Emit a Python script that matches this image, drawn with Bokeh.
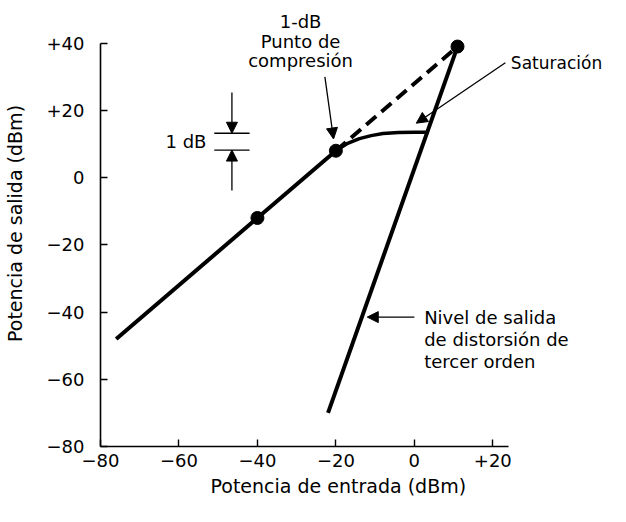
from bokeh.plotting import figure
from bokeh.models import (ColumnDataSource, FixedTicker, Range1d, Arrow, NormalHead, Title)
from bokeh.embed import file_html
from bokeh.resources import INLINE
from bokeh.core.properties import value

# ---- data (dBm) ----
linear_in = [-76, -20]
linear_out = [-48, 8]
compression_in = [-20, -17, -14, -11, -8, -4, 0, 3]
compression_out = [8, 10.2, 11.6, 12.5, 13.1, 13.4, 13.5, 13.5]
ideal_in = [-20, 11]
ideal_out = [8, 39]
third_order_in = [-22, 11]
third_order_out = [-70, 39]
marker_in = [-40, -20, 11]
marker_out = [-12, 8, 39]

x_ticks = [-80, -60, -40, -20, 0, 20]
x_tick_labels = ["\u221280", "\u221260", "\u221240", "\u221220", "0", "+20"]
y_ticks = [-80, -60, -40, -20, 0, 20, 40]
y_tick_labels = ["\u221280", "\u221260", "\u221240", "\u221220", "0", "+20", "+40"]

# ---- annotation layout ----
ann_text = ["1-dB", "Punto de", "compresi\u00f3n", "Saturaci\u00f3n",
            "Nivel de salida", "de distorsi\u00f3n de", "tercer orden", "1 dB"]
ann_x = [-29, -29, -29, 24.6, 2.5, 2.5, 2.5, -53]
ann_y = [46.5, 40.6, 34.7, 34, -41.5, -48.2, -54.7, 10.6]
ann_align = ["center", "center", "center", "left", "left", "left", "left", "right"]
ann_size = ["18px", "18px", "18px", "17px", "18px", "18px", "18px", "18px"]

arrow_x0 = [-22.8, 23.2, 0.0, -46.5, -46.5]
arrow_y0 = [30.0, 34.2, -41.5, 25.3, -3.8]
arrow_x1 = [-20.6, 0.5, -12.0, -46.5, -46.5]
arrow_y1 = [11.5, 16.2, -41.5, 13.2, 8.2]

db_bar_x0 = [-51, -51]
db_bar_x1 = [-42, -42]
db_bar_y = [13.2, 8.2]

FONT = "DejaVu Sans"

p = figure(width=610, height=506, output_backend="svg", toolbar_location=None,
           x_range=Range1d(-80, 50), y_range=Range1d(-80, 52.7),
           min_border_left=98, min_border_right=0, min_border_top=0,
           min_border_bottom=60)
p.outline_line_color = None
p.grid.visible = False
p.background_fill_color = "white"
p.border_fill_color = "white"

for ax in (p.xaxis[0], p.yaxis[0]):
    ax.axis_line_width = 1.6
    ax.axis_line_color = "black"
    ax.major_tick_in = 7
    ax.major_tick_out = 0
    ax.major_tick_line_width = 1.4
    ax.minor_tick_line_color = None
    ax.major_label_text_font = FONT
    ax.major_label_text_font_size = "18px"
    ax.major_label_text_color = "black"
    ax.axis_label_text_font = FONT
    ax.axis_label_text_font_size = "19px"
    ax.axis_label_text_font_style = "normal"
    ax.axis_label_text_color = "black"

p.xaxis.ticker = FixedTicker(ticks=x_ticks)
p.xaxis.major_label_overrides = dict(zip(x_ticks, x_tick_labels))
p.xaxis.bounds = (-80, 24)
p.xaxis.major_label_standoff = 7

p.yaxis.ticker = FixedTicker(ticks=y_ticks)
p.yaxis.major_label_overrides = dict(zip(y_ticks, y_tick_labels))
p.yaxis.bounds = (-80, 40)
p.yaxis.axis_label = "Potencia de salida (dBm)"
p.yaxis.major_label_standoff = 16
p.yaxis.axis_label_standoff = 18

# x axis title, placed under the axis
p.add_layout(Title(text="Potencia de entrada (dBm)", align="left", offset=110,
                   text_font=FONT, text_font_size="19px", text_font_style="normal",
                   text_color="black", standoff=6), "below")

# curves
p.line(linear_in, linear_out, line_width=4, color="black")
p.line(compression_in, compression_out, line_width=3.5, color="black")
p.line(ideal_in, ideal_out, line_width=4, color="black", line_dash="13 7")
p.line(third_order_in, third_order_out, line_width=4, color="black")
p.scatter(marker_in, marker_out, size=13, color="black")

# 1 dB bars
p.segment(x0=db_bar_x0, y0=db_bar_y, x1=db_bar_x1, y1=db_bar_y,
          line_width=1.3, color="black")

# arrows
asrc = ColumnDataSource(dict(x0=arrow_x0, y0=arrow_y0, x1=arrow_x1, y1=arrow_y1))
p.add_layout(Arrow(end=NormalHead(size=11, fill_color="black", line_color="black"),
                   x_start="x0", y_start="y0", x_end="x1", y_end="y1",
                   source=asrc, line_width=1.3, line_color="black"))

# texts
tsrc = ColumnDataSource(dict(x=ann_x, y=ann_y, t=ann_text, a=ann_align, s=ann_size))
p.text(x="x", y="y", text="t", text_align="a", text_baseline="middle",
       text_font=value(FONT), text_font_size="s", text_color="black", source=tsrc)

open("out.html", "w").write(file_html(p, INLINE))
